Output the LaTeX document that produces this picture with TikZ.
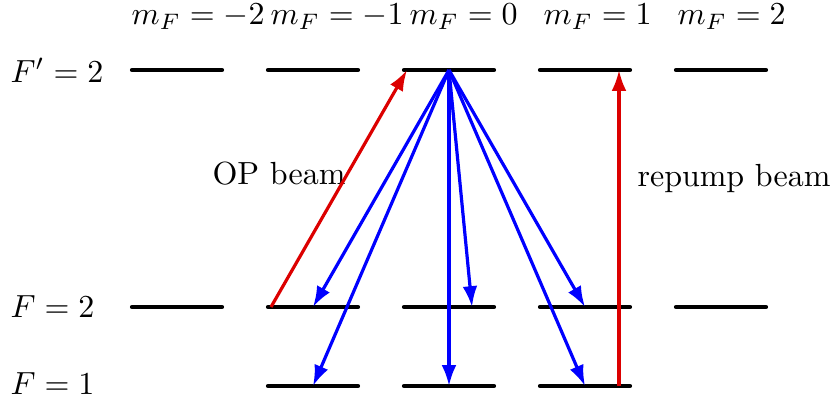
\documentclass[tikz,border=0pt]{standalone}
\usetikzlibrary{arrows.meta}
\definecolor{beamred}{RGB}{220,0,0}
\begin{document}
\begin{tikzpicture}[x=0.3125pt,y=-0.3125pt,
  lvl/.style={line width=1.3pt,line cap=round},
  decay/.style={blue,line width=1pt,-{Latex[length=6.5pt,width=4.6pt]}},
  pump/.style={beamred,line width=1pt,-{Latex[length=6.5pt,width=4.6pt]}},
  lab/.style={inner sep=0pt}]
\useasboundingbox (0,0) rectangle (832,398);
% sublevel coordinates
\foreach \i/\xc in {0/177,1/313,2/449,3/585,4/721}{
  \coordinate (u\i) at (\xc,70);
  \coordinate (uL\i) at (\xc-45,70);
  \coordinate (uR\i) at (\xc+45,70);
  \coordinate (g\i) at (\xc,307);
  \coordinate (gL\i) at (\xc-45,307);
  \coordinate (gR\i) at (\xc+45,307);
}
\foreach \i/\xc in {1/313,2/449,3/585}{
  \coordinate (h\i) at (\xc,386);
  \coordinate (hL\i) at (\xc-45,386);
  \coordinate (hR\i) at (\xc+45,386);
}
% levels
\foreach \i in {0,...,4}{
  \draw[lvl] (uL\i) -- (uR\i);
  \draw[lvl] (gL\i) -- (gR\i);
}
\foreach \i in {1,2,3}{
  \draw[lvl] (hL\i) -- (hR\i);
}
% labels
\node[lab,anchor=west] (lFp) at (10,70) {$F'=2$};
\node[lab,anchor=west] (lF2) at (10,307) {$F=2$};
\node[lab,anchor=west] (lF1) at (10,384) {$F=1$};
\node[lab,anchor=west] (m0) at (131,17) {$m_F=-2$};
\node[lab,anchor=west] (m1) at (270,17) {$m_F=-1$};
\node[lab,anchor=west] (m2) at (409,17) {$m_F=0$};
\node[lab,anchor=west] (m3) at (543,17) {$m_F=1$};
\node[lab,anchor=west] (m4) at (677,17) {$m_F=2$};
\node[lab] (op) at (279,174) {OP beam};
\node[lab] (rep) at (734,178) {repump beam};
% beams
\coordinate (opS) at (271,307);
\coordinate (opE) at (407,70);
\draw[pump] (opS) -- (opE);
\coordinate (rpS) at (619,386);
\coordinate (rpE) at (619,70);
\draw[pump] (rpS) -- (rpE);
% decays
\coordinate (g2r) at (472,307);
\draw[decay] (u2) -- (g1);
\draw[decay] (u2) -- (h1);
\draw[decay] (u2) -- (h2);
\draw[decay] (u2) -- (g2r);
\draw[decay] (u2) -- (g3);
\draw[decay] (u2) -- (h3);
\end{tikzpicture}
\end{document}
